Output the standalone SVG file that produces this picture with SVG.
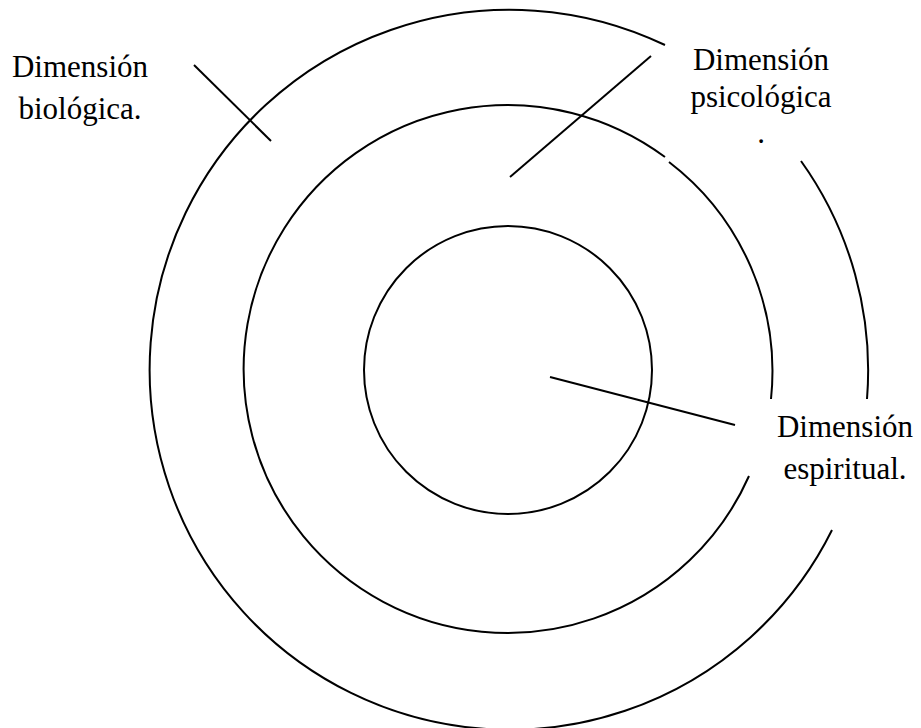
<svg xmlns="http://www.w3.org/2000/svg" width="921" height="728" viewBox="0 0 921 728">
  <style>
    .ring { fill: none; stroke: #000; stroke-width: 2; }
    .lead { stroke: #000; stroke-width: 2; }
    .label { font-family: "Liberation Serif", "Times New Roman", serif; font-size: 31px; fill: #000; text-anchor: middle; }
  </style>
  <rect width="921" height="728" fill="#fff"/>

  <!-- concentric rings, centre (508,370) -->
  <g id="outer-ring">
    <path class="ring" d="M 832 530 A 360 360 0 1 1 665 45"/>
    <path class="ring" d="M 801 161 A 360 360 0 0 1 867 399"/>
  </g>
  <g id="middle-ring">
    <path class="ring" d="M 749 476 A 264 264 0 1 1 665 157"/>
    <path class="ring" d="M 669 162 A 264 264 0 0 1 771 399"/>
  </g>
  <g id="inner-ring">
    <circle class="ring" cx="508" cy="370" r="144"/>
  </g>

  <!-- leader lines -->
  <g id="connectors">
    <line class="lead" x1="194" y1="65" x2="271" y2="141"/>
    <line class="lead" x1="651" y1="56" x2="510" y2="177"/>
    <line class="lead" x1="550" y1="377" x2="735" y2="425"/>
  </g>

  <g id="label-biologica">
    <text class="label" x="80" y="77">Dimensión</text>
    <text class="label" x="80" y="119">biológica.</text>
  </g>
  <g id="label-psicologica">
    <text class="label" x="761" y="70">Dimensión</text>
    <text class="label" x="761" y="107">psicológica</text>
    <text class="label" x="761" y="143">.</text>
  </g>
  <g id="label-espiritual">
    <text class="label" x="845" y="437">Dimensión</text>
    <text class="label" x="845" y="479">espiritual.</text>
  </g>
</svg>
